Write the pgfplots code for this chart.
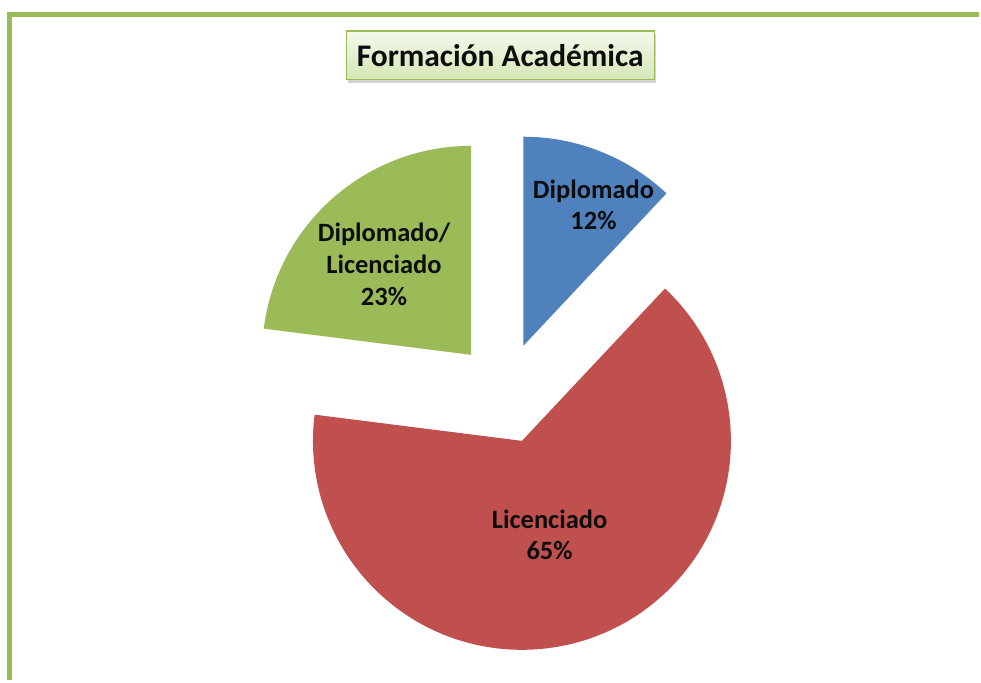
\documentclass[border=0pt]{standalone}
\usepackage{pgfplots}
\pgfplotsset{compat=1.18}
\usepackage{fontspec}
\setmainfont{Carlito}
\usetikzlibrary{shadows}
\definecolor{pblue}{HTML}{4F81BD}
\definecolor{pred}{HTML}{C0504D}
\definecolor{pgreen}{HTML}{9BBB59}
\definecolor{framegreen}{HTML}{9BBB59}
\definecolor{boxtop}{HTML}{F4F9EC}
\definecolor{boxbot}{HTML}{D5E6B5}
\definecolor{txt}{HTML}{0D0D0D}
% data (percent)
\def\vDip{12}
\def\vLic{65}
\def\vDL{23}
% geometry (1 axis unit = 1pt)
\def\R{209.5}\def\D{51}\def\Cx{506}\def\Cy{288}
\newcommand{\pieslice}[3]{%
  \pgfmathsetmacro\aS{90-3.6*(#1)}%
  \pgfmathsetmacro\aE{90-3.6*((#1)+(#2))}%
  \pgfmathsetmacro\aM{(\aS+\aE)/2}%
  \pgfmathsetmacro\sx{\Cx+\D*cos(\aM)}%
  \pgfmathsetmacro\sy{\Cy+\D*sin(\aM)}%
  \edef\dofill{\noexpand\fill[#3] (axis cs:\sx,\sy) -- ([shift={(\aS:\R pt)}]axis cs:\sx,\sy) arc[start angle=\aS, end angle=\aE, radius=\R pt] -- cycle;}%
  \dofill
}
\begin{document}
\begin{tikzpicture}
\begin{axis}[
  hide axis, scale only axis,
  width=981pt, height=682pt,
  xmin=0, xmax=981, ymin=0, ymax=682,
  clip=false,
]
\path (axis cs:0,0) rectangle (axis cs:981,682);
\draw[framegreen, line width=5pt, line join=miter] (axis cs:9.5,0) -- (axis cs:9.5,667.5) -- (axis cs:981,667.5);
\pieslice{0}{\vDip}{pblue}
\pieslice{\vDip}{\vLic}{pred}
\pieslice{\vDip+\vLic}{\vDL}{pgreen}
\node[draw=framegreen, line width=1.2pt, top color=boxtop, bottom color=boxbot,
  minimum width=309pt, minimum height=49pt, inner sep=0pt,
  drop shadow={opacity=0.35, shadow xshift=2pt, shadow yshift=-3pt},
  font=\bfseries\fontsize{31.5}{36}\selectfont, text=txt]
  at (axis cs:501.5,626.5) {Formación Académica};
\node[align=center, font=\bfseries\fontsize{26.5}{31}\selectfont, text=txt]
  at (axis cs:595,476.5) {Diplomado\\12\%};
\node[align=center, font=\bfseries\fontsize{26.5}{32}\selectfont, text=txt]
  at (axis cs:385,417) {Diplomado/\\Licenciado\\23\%};
\node[align=center, font=\bfseries\fontsize{26.5}{31}\selectfont, text=txt]
  at (axis cs:551,146) {Licenciado\\65\%};
\end{axis}
\end{tikzpicture}
\end{document}
